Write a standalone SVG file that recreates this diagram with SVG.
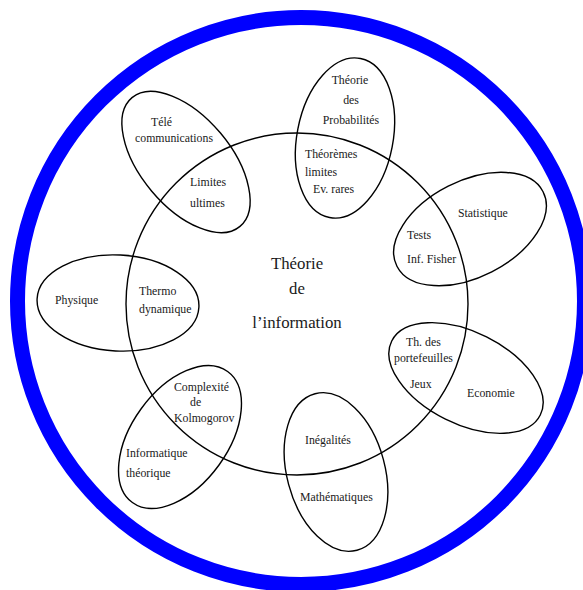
<svg xmlns="http://www.w3.org/2000/svg" width="583" height="590" viewBox="0 0 583 590">
<style>
.outline{fill:none;stroke:#000;stroke-width:1.4}
.t{font-family:"Liberation Serif","Times New Roman",serif;font-size:11.8px;fill:#1a1a1a}
.big{font-family:"Liberation Serif","Times New Roman",serif;font-size:16.8px;fill:#1a1a1a;text-anchor:middle}
.m{text-anchor:middle}
</style>
<rect width="583" height="590" fill="#fff"/>
<g id="frame">
<circle cx="301" cy="301" r="283.5" fill="none" stroke="#0000ff" stroke-width="15"/>
</g>
<g id="theorie-information">
<circle class="outline" cx="297" cy="304" r="171"/>
<text class="big" x="297" y="269">Théorie</text>
<text class="big" x="297" y="294">de</text>
<text class="big" x="297" y="328">l’information</text>
</g>
<g id="telecommunications">
<ellipse class="outline" cx="186" cy="162" rx="84" ry="45" transform="rotate(50 186 162)"/>
<text class="t" x="151" y="126">Télé</text>
<text class="t" x="135" y="142">communications</text>
<text class="t" x="190" y="186">Limites</text>
<text class="t" x="190" y="207">ultimes</text>
</g>
<g id="probabilites">
<ellipse class="outline" cx="345" cy="138" rx="81" ry="48" transform="rotate(101 345 138)"/>
<text class="t m" x="350" y="84">Théorie</text>
<text class="t m" x="351" y="104">des</text>
<text class="t m" x="351" y="124">Probabilités</text>
<text class="t" x="305" y="158">Théorèmes</text>
<text class="t" x="305" y="176">limites</text>
<text class="t" x="313" y="193">Ev. rares</text>
</g>
<g id="statistique">
<ellipse class="outline" cx="470" cy="229" rx="82" ry="48" transform="rotate(-27 470 229)"/>
<text class="t" x="458" y="217">Statistique</text>
<text class="t" x="407" y="239">Tests</text>
<text class="t" x="407" y="263">Inf. Fisher</text>
</g>
<g id="economie">
<ellipse class="outline" cx="466" cy="378" rx="83" ry="46" transform="rotate(26.5 466 378)"/>
<text class="t" x="406" y="346">Th. des</text>
<text class="t" x="394" y="362">portefeuilles</text>
<text class="t" x="410" y="388">Jeux</text>
<text class="t" x="467" y="397">Economie</text>
</g>
<g id="mathematiques">
<ellipse class="outline" cx="336" cy="472" rx="81" ry="49" transform="rotate(75 336 472)"/>
<text class="t" x="305" y="444">Inégalités</text>
<text class="t" x="300" y="501">Mathématiques</text>
</g>
<g id="informatique">
<ellipse class="outline" cx="180" cy="437" rx="81" ry="48" transform="rotate(-54 180 437)"/>
<text class="t" x="174" y="391">Complexité</text>
<text class="t" x="190" y="406">de</text>
<text class="t" x="174" y="422">Kolmogorov</text>
<text class="t" x="126" y="457">Informatique</text>
<text class="t" x="126" y="477">théorique</text>
</g>
<g id="physique">
<ellipse class="outline" cx="118" cy="303" rx="81" ry="48" transform="rotate(3 118 303)"/>
<text class="t" x="55" y="304">Physique</text>
<text class="t" x="139" y="295">Thermo</text>
<text class="t" x="139" y="313">dynamique</text>
</g>
</svg>
